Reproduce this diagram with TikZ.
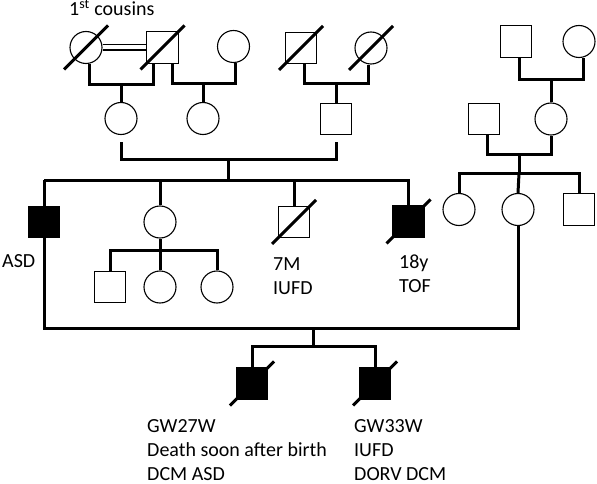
\documentclass[tikz,border=0pt]{standalone}
\usepackage{fontspec}
\setmainfont{Carlito}

\tikzset{
  male/.style={draw, rectangle, minimum size=31.5pt, inner sep=0pt, line width=1.1pt},
  female/.style={draw, circle, minimum size=32pt, inner sep=0pt, line width=1.1pt},
  affected/.style={fill=black},
  rel/.style={line width=3pt},
  cons/.style={double, double distance=4pt, line width=1.4pt},
  slash/.style={line width=3pt},
  note/.style={anchor=base west, inner sep=0pt, font=\fontsize{20}{24}\selectfont, align=left}
}
\newcommand{\dead}[1]{\draw[slash] ([shift={(-22,22)}]#1.center) -- ([shift={(22,-22)}]#1.center);}

\begin{document}
\begin{tikzpicture}[x=1pt,y=-1pt]
    \useasboundingbox (0,0) rectangle (597,484);

    % generation I
    \node[female] (I1) at (86,47.5) {};
    \node[male] (I2) at (162.5,47.5) {};
    \node[female] (I3) at (233.5,46.5) {};
    \node[male] (I4) at (301,48) {};
    \node[female] (I5) at (371,48) {};
    \node[male] (I6) at (516,41.5) {};
    \node[female] (I7) at (579,41.5) {};
    \foreach\p in {I1,I2,I4,I5}{\dead{\p}}
    \node[note] (cous) at (69,16) {1\textsuperscript{st} cousins};

    % generation II
    \node[female] (II1) at (121,118.5) {};
    \node[female] (II2) at (203,118.5) {};
    \node[male] (II3) at (336,119) {};
    \node[male] (II4) at (484,119) {};
    \node[female] (II5) at (551,119) {};

    \draw[cons] (I1.east) -- (I2.west);
    \draw[rel] ([xshift=3pt]I1.south) -- ++(0,20) -| ([xshift=-9.5pt]I2.south);
    \draw[rel] (II1.north) -- ++(0,-19);
    \draw[rel] ([xshift=9.5pt]I2.south) -- ++(0,20) -| ([xshift=1.5pt]I3.south);
    \draw[rel] (II2.north) -- ++(0,-19);
    \draw[rel] ([xshift=3pt]I4.south) -- ++(0,19) -| ([xshift=-3pt]I5.south);
    \draw[rel] (II3.north) -- ++(0,-20);
    \draw[rel] ([xshift=3pt]I6.south) -- ++(0,22) -| ([xshift=4pt]I7.south);
    \draw[rel] (II5.north) -- ++(0,-24);

    % generation III
    \node[male,affected] (III1) at (44,222) {};
    \node[female] (III2) at (160,222) {};
    \node[male] (III3) at (294,222) {};
    \node[male,affected] (III4) at (408.5,221.5) {};
    \node[female] (III5) at (459,209.5) {};
    \node[female] (III6) at (518,209.5) {};
    \node[male] (III7) at (579,209.5) {};
    \foreach\p in {III3,III4}{\dead{\p}}
    \node[note] (asd) at (2,267) {ASD};
    \node[note] (iufd) at (273,294) {7M\\IUFD};
    \node[note] (tof) at (399,292.5) {18y\\TOF};

    \draw[rel] ([yshift=-7pt]II1.south) -- ++(0,17) -| coordinate[pos=.25] (u2) ([yshift=-7pt]II3.south);
    \draw[rel] (u2) -- ++(0,21) coordinate (s3);
    \draw[rel] (III1.center |- s3) -- (III4.north |- s3) -- (III4.north);
    \draw[rel] (III2.north) -- (III2.north |- s3);
    \draw[rel] (III3.north) -- (III3.north |- s3);
    \draw[rel] ([xshift=3pt]II4.south) -- ++(0,19) -| coordinate[pos=.25] (u5) (II5.south);
    \draw[rel] (u5) -- ++(0,19) coordinate (s5);
    \draw[rel] (III5.north) |- (III7.north |- s5) -- (III7.north);
    \draw[rel] (s5) -- (III6.north);

    % generation IV
    \node[male] (IV1) at (110,287) {};
    \node[female] (IV2) at (160,287) {};
    \node[female] (IV3) at (217,287) {};
    \node[male,affected] (IV4) at (252,383.5) {};
    \node[male,affected] (IV5) at (375,383.5) {};
    \foreach\p in {IV4,IV5}{\dead{\p}}
    \node[note] (iv4) at (147,480) {GW27W\\Death soon after birth\\DCM ASD};
    \node[note] (iv5) at (354,480) {GW33W\\IUFD\\DORV DCM};

    \draw[rel] (III2.south) -- ++(0,12) coordinate (s4);
    \draw[rel] (IV1.north) |- (s4) -| (IV3.north);
    \draw[rel] (IV2.north) -- (s4);
    \draw[rel] (III1.center |- s3) -- ++(0,148) -| (III6.south);
    \draw[rel] (IV4.north) -- ++(0,-21) -| coordinate[pos=.25] (u4) (IV5.north);
    \draw[rel] (u4) -- ++(0,-19);
\end{tikzpicture}
\end{document}
